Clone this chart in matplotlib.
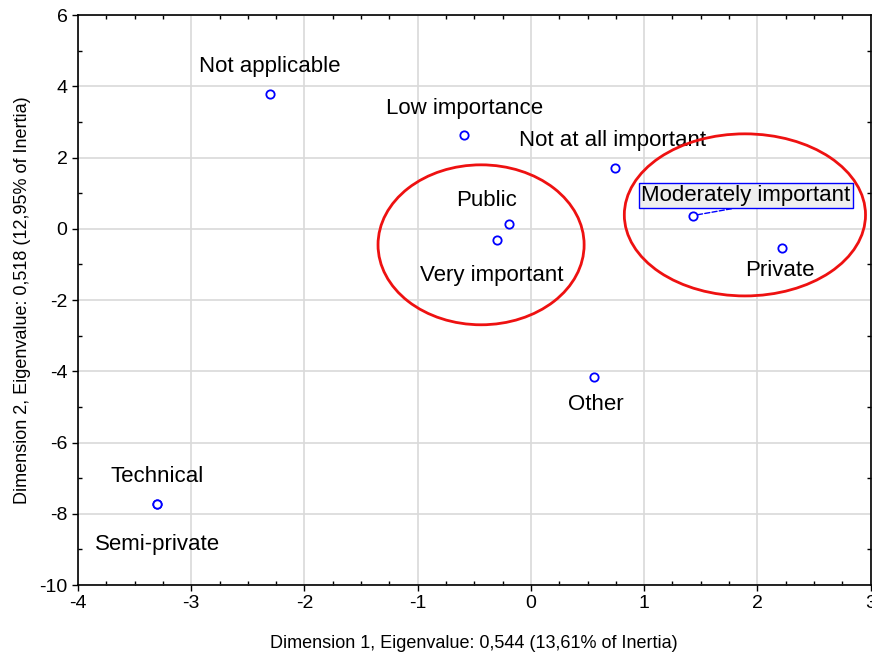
import matplotlib.pyplot as plt
from matplotlib.patches import Ellipse
from matplotlib.ticker import MultipleLocator

plt.rcParams['font.family'] = ['Liberation Sans', 'DejaVu Sans']
plt.rcParams['axes.unicode_minus'] = False

# coordenadas de las categorias (dimension 1, dimension 2)
categorias = ['Not applicable', 'Low importance', 'Not at all important', 'Public',
              'Very important', 'Moderately important', 'Private', 'Other',
              'Technical', 'Semi-private']
dim1 = [-2.30, -0.59, 0.74, -0.19, -0.30, 1.43, 2.22, 0.56, -3.30, -3.30]
dim2 = [3.79, 2.64, 1.71, 0.14, -0.31, 0.37, -0.53, -4.16, -7.72, -7.72]

# posicion de cada etiqueta
etiq_x = [-2.31, -0.59, 0.72, -0.39, -0.35, 1.90, 2.20, 0.57, -3.30, -3.30]
etiq_y = [4.55, 3.38, 2.48, 0.78, -1.30, 0.93, -1.18, -4.93, -6.95, -8.85]

# grupos marcados con elipses: centro x, centro y, ancho, alto
elipses = [(-0.44, -0.45, 1.82, 4.49), (1.89, 0.39, 2.13, 4.55)]

fig = plt.figure(figsize=(8.72, 6.54), dpi=100)
ax = fig.add_axes([0.0894, 0.1055, 0.909, 0.8715])

ax.grid(color='#d9d9d9', linewidth=1.2)
ax.set_axisbelow(True)

ax.plot(dim1, dim2, linestyle='none', marker='o', markersize=6,
        markerfacecolor='white', markeredgecolor='blue', markeredgewidth=1.3, zorder=3)

for i, nombre in enumerate(categorias):
    if nombre == 'Moderately important':
        ax.annotate(nombre, xy=(dim1[i], dim2[i]), xytext=(etiq_x[i], etiq_y[i]),
                    ha='center', va='center', fontsize=16,
                    bbox=dict(boxstyle='square,pad=0.1', facecolor='#efefef',
                              edgecolor='blue', linewidth=1),
                    arrowprops=dict(arrowstyle='-', color='blue', linestyle='--',
                                    linewidth=1, shrinkA=0, shrinkB=4,
                                    patchA=None, relpos=(0.5, 0)), zorder=4)
    else:
        ax.text(etiq_x[i], etiq_y[i], nombre, ha='center', va='center', fontsize=16)

for cx, cy, w, h in elipses:
    ax.add_patch(Ellipse((cx, cy), w, h, fill=False, edgecolor='#ee1111', linewidth=2, zorder=5))

ax.set_xlim(-4, 3)
ax.set_ylim(-10, 6)
ax.xaxis.set_major_locator(MultipleLocator(1))
ax.xaxis.set_minor_locator(MultipleLocator(0.25))
ax.yaxis.set_major_locator(MultipleLocator(2))
ax.yaxis.set_minor_locator(MultipleLocator(1))
ax.tick_params(which='major', direction='out', length=4, labelsize=14, width=1)
ax.tick_params(which='minor', direction='in', length=3, top=True, right=True, width=1)
ax.tick_params(which='major', top=False, right=False)
for s in ax.spines.values():
    s.set_linewidth(1.2)

ax.set_xlabel('Dimension 1, Eigenvalue: 0,544 (13,61% of Inertia)', fontsize=13, labelpad=16)
ax.set_ylabel('Dimension 2, Eigenvalue: 0,518 (12,95% of Inertia)', fontsize=13, labelpad=6)

fig.savefig('out.png', dpi=100)
